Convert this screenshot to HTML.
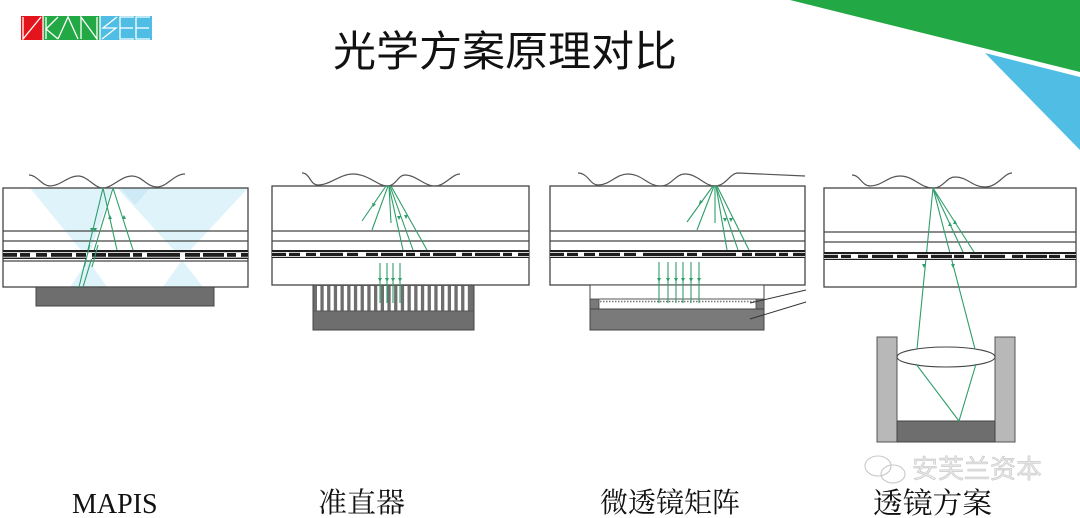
<!DOCTYPE html>
<html><head><meta charset="utf-8"><style>
html,body{margin:0;padding:0;background:#fff;}
svg{display:block;}
.cn{font-family:"Liberation Serif","Noto Serif CJK SC",serif;}
</style></head><body>
<svg width="1080" height="518" viewBox="0 0 1080 518" xmlns="http://www.w3.org/2000/svg">
<!-- corner shapes -->
<polygon points="790,0 1080,0 1080,72" fill="#22a844"/>
<polygon points="985,53 1080,77 1080,150" fill="#4fbde4"/>
<!-- logo -->
<rect x="21" y="16" width="22" height="24" fill="#e3141b"/>
<rect x="43" y="16" width="57" height="24" fill="#22a844"/>
<rect x="100" y="16" width="52" height="24" fill="#4fbde4"/>
<g stroke="#fff" stroke-width="1.3" fill="none">
<polyline points="23,17 23,39 41,17"/>
<line x1="43" y1="16" x2="43" y2="40"/>
<polyline points="58,17 46,29 58,39"/><line x1="46" y1="17" x2="46" y2="39"/>
<polyline points="58,39 68,17 78,39"/>
<polyline points="81,39 81,17 97,39 97,17"/>
<line x1="100" y1="16" x2="100" y2="40"/>
<polyline points="117,17 103,28 116,28 102,39"/>
<polyline points="134,17 120,17 120,39 134,39"/><line x1="120" y1="28" x2="133" y2="28"/>
<polyline points="150,17 136,17 136,39 150,39"/><line x1="136" y1="28" x2="149" y2="28"/>
</g>
<!-- title -->
<text x="333" y="66" font-family="'Liberation Sans','Noto Sans CJK SC',sans-serif" font-size="42" textLength="344" lengthAdjust="spacingAndGlyphs" fill="#111">光学方案原理对比</text>

<!-- ========== Panel 1 MAPIS ========== -->
<g>
<polygon points="30,188 112,188 88,259" fill="#dff3fb"/>
<polygon points="117,188 248,188 182,259" fill="#dff3fb"/>
<polygon points="120,188 150,188 135,205" fill="#cdeaf6"/>
<polygon points="88,260 70,287 107,287" fill="#dff3fb"/>
<polygon points="182,260 163,287 203,287" fill="#dff3fb"/>
<rect x="3" y="188" width="245" height="99" fill="none" stroke="#444" stroke-width="1.3"/>
<line x1="3" y1="231" x2="248" y2="231" stroke="#444" stroke-width="1.2"/>
<line x1="3" y1="241" x2="248" y2="241" stroke="#444" stroke-width="1.2"/>
<line x1="3" y1="261" x2="248" y2="261" stroke="#444" stroke-width="1.2"/>
<path d="M29,175 C37,175 42,186 50,186 C60,186 68,176 78,176 C88,176 94,188 103,188 C112,188 121,176 132,176 C142,176 147,187 157,187 C167,187 174,174 185,174" fill="none" stroke="#555" stroke-width="1.2"/>
<rect x="36" y="287" width="178" height="19" fill="#6e6e6e" stroke="#444" stroke-width="1"/>
<g stroke="#2e9e6a" stroke-width="1.1">
<line x1="103" y1="188" x2="79" y2="287"/>
<line x1="113" y1="188" x2="83" y2="287"/>
<line x1="103" y1="188" x2="117" y2="250"/>
<line x1="113" y1="188" x2="133" y2="250"/>
</g>
</g>

<!-- ========== Panel 2 collimator ========== -->
<g>
<rect x="272" y="186" width="257" height="99" fill="none" stroke="#444" stroke-width="1.3"/>
<line x1="272" y1="231" x2="529" y2="231" stroke="#444" stroke-width="1.2"/>
<line x1="272" y1="241" x2="529" y2="241" stroke="#444" stroke-width="1.2"/>
<path d="M302,173 C310,173 310,185 318,185 C330,185 340,174 353,174 C368,174 378,186 387,186 C396,186 398,175 405,175 C416,175 424,186 435,186 C445,186 452,174 460,174" fill="none" stroke="#555" stroke-width="1.2"/>
<rect x="313" y="285" width="161" height="45" fill="#6e6e6e" stroke="#444" stroke-width="1"/>
<g fill="#fff">
<rect x="317" y="286" width="3.4" height="25"/><rect x="323.7" y="286" width="3.4" height="25"/><rect x="330.4" y="286" width="3.4" height="25"/><rect x="337.1" y="286" width="3.4" height="25"/><rect x="343.8" y="286" width="3.4" height="25"/><rect x="350.5" y="286" width="3.4" height="25"/><rect x="357.2" y="286" width="3.4" height="25"/><rect x="363.9" y="286" width="3.4" height="25"/><rect x="370.6" y="286" width="3.4" height="25"/><rect x="377.3" y="286" width="3.4" height="25"/><rect x="384" y="286" width="3.4" height="25"/><rect x="390.7" y="286" width="3.4" height="25"/><rect x="397.4" y="286" width="3.4" height="25"/><rect x="404.1" y="286" width="3.4" height="25"/><rect x="410.8" y="286" width="3.4" height="25"/><rect x="417.5" y="286" width="3.4" height="25"/><rect x="424.2" y="286" width="3.4" height="25"/><rect x="430.9" y="286" width="3.4" height="25"/><rect x="437.6" y="286" width="3.4" height="25"/><rect x="444.3" y="286" width="3.4" height="25"/><rect x="451" y="286" width="3.4" height="25"/><rect x="457.7" y="286" width="3.4" height="25"/><rect x="464.4" y="286" width="3.4" height="25"/>
</g>
<line x1="313" y1="311" x2="474" y2="311" stroke="#555" stroke-width="1"/>
<g stroke="#2e9e6a" stroke-width="1.1">
<line x1="386" y1="186" x2="362" y2="221"/>
<line x1="388" y1="186" x2="372" y2="230"/>
<line x1="389" y1="186" x2="391" y2="223"/>
<line x1="389" y1="186" x2="403" y2="250"/>
<line x1="390" y1="186" x2="413" y2="250"/>
<line x1="391" y1="186" x2="427" y2="250"/>
<line x1="380" y1="263" x2="380" y2="303"/>
<line x1="387" y1="263" x2="387" y2="303"/>
<line x1="393" y1="263" x2="393" y2="303"/>
<line x1="400" y1="263" x2="400" y2="303"/>
</g>
</g>

<!-- ========== Panel 3 micro-lens ========== -->
<g>
<rect x="550" y="186" width="255" height="99" fill="none" stroke="#444" stroke-width="1.3"/>
<line x1="550" y1="231" x2="805" y2="231" stroke="#444" stroke-width="1.2"/>
<line x1="550" y1="241" x2="805" y2="241" stroke="#444" stroke-width="1.2"/>
<path d="M578,173 C588,173 590,185 598,185 C610,185 616,174 628,174 C642,174 648,186 660,186 C672,186 675,174 685,174 C698,174 704,186 715,186 C726,186 730,173 738,173 L805,176" fill="none" stroke="#555" stroke-width="1.2"/>
<rect x="590" y="285" width="174" height="45" fill="#fff" stroke="#444" stroke-width="1"/>
<rect x="590" y="299" width="9" height="10" fill="#7a7a7a" stroke="#444" stroke-width="0.8"/>
<rect x="756" y="299" width="8" height="10" fill="#7a7a7a" stroke="#444" stroke-width="0.8"/>
<line x1="599" y1="299" x2="756" y2="299" stroke="#555" stroke-width="1"/>
<line x1="600" y1="301.5" x2="756" y2="301.5" stroke="#777" stroke-width="1.5" stroke-dasharray="1.5,1.5"/>
<rect x="590" y="309" width="174" height="21" fill="#7a7a7a" stroke="#444" stroke-width="1"/>
<line x1="750" y1="303" x2="806" y2="290" stroke="#333" stroke-width="1"/>
<line x1="750" y1="319" x2="806" y2="302" stroke="#333" stroke-width="1"/>
<g stroke="#2e9e6a" stroke-width="1.1">
<line x1="713" y1="186" x2="687" y2="222"/>
<line x1="714" y1="186" x2="697" y2="230"/>
<line x1="715" y1="186" x2="715" y2="223"/>
<line x1="716" y1="186" x2="727" y2="250"/>
<line x1="716" y1="186" x2="738" y2="250"/>
<line x1="717" y1="186" x2="749" y2="250"/>
<line x1="659" y1="262" x2="659" y2="303"/>
<line x1="668" y1="262" x2="668" y2="303"/>
<line x1="676" y1="262" x2="676" y2="303"/>
<line x1="683" y1="262" x2="683" y2="303"/>
<line x1="691" y1="262" x2="691" y2="303"/>
<line x1="699" y1="262" x2="699" y2="303"/>
</g>
</g>

<!-- ========== Panel 4 lens ========== -->
<g>
<rect x="824" y="188" width="252" height="99" fill="none" stroke="#444" stroke-width="1.3"/>
<line x1="824" y1="232" x2="1076" y2="232" stroke="#444" stroke-width="1.2"/>
<line x1="824" y1="242" x2="1076" y2="242" stroke="#444" stroke-width="1.2"/>
<path d="M852,175 C860,175 862,186 870,186 C882,186 888,176 900,176 C914,176 920,188 933,188 C944,188 946,177 955,177 C968,177 972,187 985,187 C998,187 1004,173 1012,173" fill="none" stroke="#555" stroke-width="1.2"/>
<rect x="877" y="337" width="20" height="105" fill="#b8b8b8" stroke="#555" stroke-width="1"/>
<rect x="995" y="337" width="20" height="105" fill="#b8b8b8" stroke="#555" stroke-width="1"/>
<rect x="897" y="421" width="98" height="21" fill="#6e6e6e" stroke="#444" stroke-width="1"/>
<ellipse cx="946" cy="357" rx="49" ry="10" fill="#fff" stroke="#444" stroke-width="1.1"/>
<g stroke="#2e9e6a" stroke-width="1.1" fill="none">
<line x1="933" y1="188" x2="963" y2="252"/>
<line x1="933" y1="188" x2="974" y2="252"/>
<line x1="933" y1="188" x2="917" y2="349"/>
<line x1="933" y1="188" x2="975" y2="349"/>
<polyline points="916,364 959,421 976,364"/>
</g>
</g>

<!-- bands -->
<g id="bands">
<rect x="3" y="250" width="245" height="9" fill="#1e1e1e"/>
<rect x="3" y="252.2" width="245" height="0.8" fill="#fff"/>
<rect x="3" y="256.8" width="245" height="0.8" fill="#fff"/>
<g fill="#fff">
<rect x="17" y="253" width="3" height="4"/><rect x="30" y="253" width="6" height="4"/><rect x="47" y="253" width="4" height="4"/><rect x="72" y="253" width="4" height="4"/><rect x="86" y="253" width="6" height="6"/><rect x="106" y="253" width="2" height="4"/><rect x="130" y="253" width="3" height="4"/><rect x="142" y="253" width="5" height="4"/><rect x="180" y="253" width="5" height="6"/><rect x="200" y="253" width="3" height="4"/><rect x="224" y="253" width="3" height="4"/><rect x="236" y="253" width="5" height="4"/>
</g>
<rect x="272" y="250" width="257" height="8" fill="#1e1e1e"/>
<rect x="272" y="252" width="257" height="0.8" fill="#fff"/>
<rect x="272" y="256" width="257" height="0.8" fill="#fff"/>
<g fill="#fff">
<rect x="286" y="252.5" width="3" height="4"/><rect x="300" y="252.5" width="6" height="4"/><rect x="316" y="252.5" width="4" height="4"/><rect x="343" y="252.5" width="4" height="4"/><rect x="358" y="252.5" width="8" height="4"/><rect x="378" y="252.5" width="3" height="4"/><rect x="403" y="252.5" width="3" height="4"/><rect x="415" y="252.5" width="5" height="4"/><rect x="430" y="252.5" width="3" height="4"/><rect x="456" y="252.5" width="6" height="4"/><rect x="472" y="252.5" width="3" height="4"/><rect x="500" y="252.5" width="3" height="4"/><rect x="512" y="252.5" width="6" height="4"/>
</g>
<rect x="550" y="250" width="255" height="8" fill="#1e1e1e"/>
<rect x="550" y="252" width="255" height="0.8" fill="#fff"/>
<rect x="550" y="256" width="255" height="0.8" fill="#fff"/>
<g fill="#fff">
<rect x="564" y="252.5" width="3" height="4"/><rect x="578" y="252.5" width="6" height="4"/><rect x="595" y="252.5" width="4" height="4"/><rect x="620" y="252.5" width="4" height="4"/><rect x="636" y="252.5" width="7" height="4"/><rect x="684" y="252.5" width="3" height="4"/><rect x="697" y="252.5" width="5" height="4"/><rect x="736" y="252.5" width="6" height="4"/><rect x="752" y="252.5" width="3" height="4"/><rect x="776" y="252.5" width="3" height="4"/><rect x="788" y="252.5" width="5" height="4"/>
</g>
<rect x="824" y="252" width="252" height="8" fill="#1e1e1e"/>
<rect x="824" y="254" width="252" height="0.8" fill="#fff"/>
<rect x="824" y="258" width="252" height="0.8" fill="#fff"/>
<g fill="#fff">
<rect x="838" y="254.5" width="3" height="4"/><rect x="851" y="254.5" width="7" height="4"/><rect x="868" y="254.5" width="4" height="4"/><rect x="893" y="254.5" width="4" height="4"/><rect x="908" y="254.5" width="9" height="4"/><rect x="928" y="254.5" width="3" height="4"/><rect x="952" y="254.5" width="2" height="4"/><rect x="964" y="254.5" width="6" height="4"/><rect x="982" y="254.5" width="2" height="4"/><rect x="1005" y="254.5" width="7" height="4"/><rect x="1023" y="254.5" width="3" height="4"/><rect x="1047" y="254.5" width="2" height="4"/><rect x="1060" y="254.5" width="5" height="4"/>
</g>
</g>
<g stroke="#2e9e6a" stroke-width="1.1">
<line x1="89.7" y1="245" x2="84.3" y2="267"/>
<line x1="98" y1="245" x2="92" y2="267"/>
</g>

<!-- small arrowheads on rays -->
<g fill="#2e9e6a">
<polygon points="92,232 90,228 94,228"/>
<polygon points="95,232 93,228 97,228"/>
<polygon points="110,215 108,219 112,219"/>
<polygon points="124,215 122,219 126,219"/>
<polygon points="373,207 372,203 376,204"/>
<polygon points="399,220 397,216 401,216"/>
<polygon points="406,219 404,215 408,215"/>
<polygon points="380,282 378,278 382,278"/><polygon points="387,282 385,278 389,278"/><polygon points="393,282 391,278 395,278"/><polygon points="400,282 398,278 402,278"/>
<polygon points="700,200 699,204 703,202"/>
<polygon points="725,222 723,218 727,218"/>
<polygon points="731,222 729,218 733,218"/>
<polygon points="659,282 657,278 661,278"/><polygon points="668,282 666,278 670,278"/><polygon points="676,282 674,278 678,278"/><polygon points="683,282 681,278 685,278"/><polygon points="691,282 689,278 693,278"/><polygon points="699,282 697,278 701,278"/>
<polygon points="950,222 948,226 952,226"/>
<polygon points="955,220 953,224 957,224"/>
<polygon points="924,268 922,264 926,264"/>
<polygon points="953,268 951,264 955,264"/>
</g>

<!-- watermark -->
<g fill="none" stroke="#c8c8c8" stroke-width="1.1">
<ellipse cx="878" cy="466" rx="13" ry="10"/>
<ellipse cx="893" cy="474" rx="12" ry="9"/>
</g>
<text x="912" y="478" font-family="'Liberation Sans','Noto Sans CJK SC',sans-serif" font-size="26" fill="#e6e6e6" stroke="#b8b8b8" stroke-width="0.4" textLength="130" lengthAdjust="spacingAndGlyphs">安芙兰资本</text>

<!-- labels -->
<text x="72" y="513" font-family="'Liberation Serif',serif" font-size="28" fill="#111">MAPIS</text>
<text class="cn" x="318" y="512" font-size="28" fill="#111" textLength="87" lengthAdjust="spacingAndGlyphs">准直器</text>
<text class="cn" x="600" y="512" font-size="28" fill="#111" textLength="140" lengthAdjust="spacingAndGlyphs">微透镜矩阵</text>
<text class="cn" x="873" y="513" font-size="29" fill="#111" textLength="119" lengthAdjust="spacingAndGlyphs">透镜方案</text>
</svg>
</body></html>
